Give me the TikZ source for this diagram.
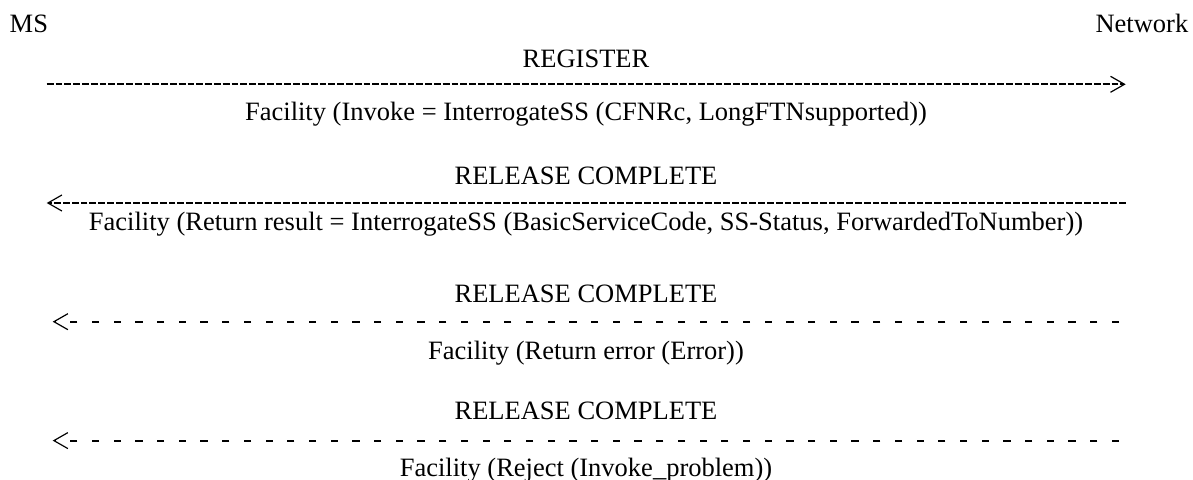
\documentclass[tikz,border=0pt]{standalone}
\usepackage{fontspec}
\setmainfont{Liberation Serif}
\usetikzlibrary{arrows.meta,positioning}

\begin{document}
\begin{tikzpicture}[
    x=1pt, y=-1pt,
    >={Straight Barb[length=14pt,width=16pt,line width=1.2pt]},
    lane/.style={font=\fontsize{26.5}{30}\selectfont, inner sep=0pt},
    msgtext/.style={font=\fontsize{26.5}{30}\selectfont, inner sep=0pt, anchor=base},
    okmsg/.style={line width=2pt, dash pattern=on 6.8pt off 2pt},
    errmsg/.style={line width=2pt, dash pattern=on 7.2pt off 14.5pt},
]
\useasboundingbox (0,0) rectangle (1193,479);

% ============ ENDPOINTS ============
\node[lane, anchor=base west] (ms) at (9.5,32.7) {MS};
\node[lane, anchor=base east] (net) at (1188.5,32.7) {Network};

% lane ends of each message row
\coordinate (m1) at (46.7,84.3);   \coordinate (n1) at (1125.7,84.3);
\coordinate (m2) at (46.7,203);    \coordinate (n2) at (1125.7,203);
\coordinate (m3) at (52.7,321.7);  \coordinate (n3) at (1119,321.7);
\coordinate (m4) at (52.7,440.6);  \coordinate (n4) at (1119,440.6);

% ============ INTERROGATION ============
\node[msgtext] (reg) at (586,67) {REGISTER};
\draw[okmsg, ->] (m1) -- (n1);
\node[msgtext] (inv) at (586,120) {Facility (Invoke = InterrogateSS (CFNRc, LongFTNsupported))};

% ============ RESULT ============
\node[msgtext] (rel1) at (586,184.5) {RELEASE COMPLETE};
\draw[okmsg, ->] (n2) -- (m2);
\node[msgtext] (res) at (586,230.7) {Facility (Return result = InterrogateSS (BasicServiceCode, SS-Status, ForwardedToNumber))};

% ============ ERROR / REJECT ============
\node[msgtext] (rel2) at (586,302) {RELEASE COMPLETE};
\draw[errmsg, ->] (n3) -- (m3);
\node[msgtext] (err) at (586,359.5) {Facility (Return error (Error))};

\node[msgtext] (rel3) at (586,419.3) {RELEASE COMPLETE};
\draw[errmsg, ->] (n4) -- (m4);
\node[msgtext] (rej) at (586,476.5) {Facility (Reject (Invoke\_problem))};

\end{tikzpicture}
\end{document}
